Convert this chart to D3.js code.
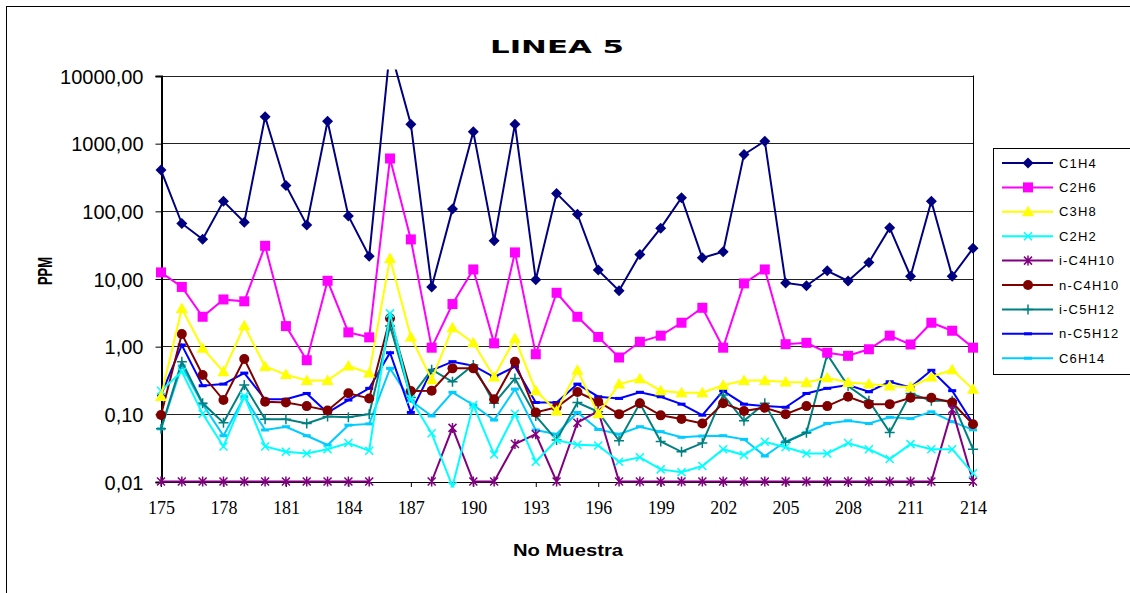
<!DOCTYPE html>
<html>
<head>
<meta charset="utf-8">
<script src="https://cdn.jsdelivr.net/npm/d3@7"></script>
<style>
  body { margin: 0; background: #fff; }
  svg { display: block; }
</style>
</head>
<body>
<div id="chart"></div>
<script>
// sample numbers on the x axis
var samples = [175, 176, 177, 178, 179, 180, 181, 182, 183, 184, 185, 186, 187, 188, 189, 190, 191, 192, 193, 194,
  195, 196, 197, 198, 199, 200, 201, 202, 203, 204, 205, 206, 207, 208, 209, 210, 211, 212, 213, 214]

var xTickLabels = [175, 178, 181, 184, 187, 190, 193, 196, 199, 202, 205, 208, 211, 214]
var yTickValues = [0.01, 0.1, 1, 10, 100, 1000, 10000]

// ppm values (null = no point)
var c1h4 = [400, 65, 38, 138, 68, 2450, 237, 62, 2110, 84, 21.4, 25000, 1910, 7.5, 106, 1470, 36, 1910, 9.6, 181,
  89, 13.3, 6.6, 22.7, 55.5, 156, 20.2, 24.8, 680, 1070, 8.6, 7.8, 13, 9.2, 17.3, 56, 10.8, 139, 10.8, 27.9]
var c2h6 = [12.3, 7.5, 2.72, 4.9, 4.6, 30.4, 1.98, 0.62, 9.25, 1.6, 1.35, 594, 37.8, 0.95, 4.19, 13.6, 1.1, 24.3, 0.76, 6.15,
  2.72, 1.37, 0.68, 1.16, 1.43, 2.22, 3.69, 0.95, 8.46, 13.6, 1.07, 1.12, 0.8, 0.72, 0.9, 1.43, 1.06, 2.22, 1.69, 0.95]
var c3h8 = [0.18, 3.6, 0.93, 0.42, 2.0, 0.5, 0.38, 0.31, 0.31, 0.51, 0.4, 19.8, 1.37, 0.32, 1.87, 1.12, 0.35, 1.3, 0.22, 0.11,
  0.44, 0.1, 0.275, 0.33, 0.22, 0.205, 0.205, 0.264, 0.31, 0.31, 0.295, 0.29, 0.34, 0.29, 0.275, 0.258, 0.25, 0.35, 0.45, 0.23]
var c2h2 = [0.22, 0.42, 0.1, 0.033, 0.183, 0.033, 0.0275, 0.026, 0.03, 0.037, 0.0285, 3.05, 0.164, 0.0515, 0.0085, 0.135, 0.025, 0.1, 0.0196, 0.041,
  0.035, 0.034, 0.0196, 0.0228, 0.0151, 0.0137, 0.0169, 0.03, 0.0246, 0.0387, 0.032, 0.026, 0.026, 0.037, 0.03, 0.0215, 0.0357, 0.03, 0.03, 0.0132]
var ic4h10 = [0.01, 0.01, 0.01, 0.01, 0.01, 0.01, 0.01, 0.01, 0.01, 0.01, 0.01, null, null, 0.01, 0.062, 0.01, 0.01, 0.0358, 0.05, 0.01,
  0.074, 0.11, 0.01, 0.01, 0.01, 0.01, 0.01, 0.01, 0.01, 0.01, 0.01, 0.01, 0.01, 0.01, 0.01, 0.01, 0.01, 0.01, 0.116, 0.01]
var nc4h10 = [0.096, 1.51, 0.374, 0.16, 0.645, 0.151, 0.147, 0.13, 0.112, 0.201, 0.169, 2.58, 0.217, 0.22, 0.47, 0.47, 0.164, 0.589, 0.105, 0.125,
  0.21, 0.151, 0.099, 0.143, 0.095, 0.084, 0.072, 0.143, 0.11, 0.123, 0.099, 0.13, 0.13, 0.179, 0.139, 0.139, 0.173, 0.173, 0.147, 0.07]
var ic5h12 = [0.06, 0.59, 0.143, 0.074, 0.266, 0.083, 0.083, 0.072, 0.091, 0.089, 0.099, 1.98, 0.175, 0.45, 0.298, 0.526, 0.143, 0.334, 0.093, 0.041,
  0.147, 0.107, 0.04, 0.143, 0.039, 0.0275, 0.037, 0.19, 0.079, 0.143, 0.038, 0.0526, 0.757, 0.258, 0.156, 0.0532, 0.2, 0.156, 0.156, 0.03]
var nc5h12 = [0.19, 1.04, 0.26, 0.275, 0.4, 0.164, 0.164, 0.2, 0.104, 0.16, 0.238, 0.8, 0.105, 0.44, 0.59, 0.514, 0.35, 0.5, 0.147, 0.147,
  0.275, 0.179, 0.169, 0.208, 0.179, 0.139, 0.0955, 0.219, 0.139, 0.13, 0.125, 0.2, 0.238, 0.266, 0.212, 0.298, 0.246, 0.44, 0.22, 0.072]
var c6h14 = [0.06, 0.51, 0.139, 0.0475, 0.179, 0.0577, 0.0645, 0.0475, 0.0346, 0.068, 0.071, 0.47, 0.156, 0.093, 0.208, 0.135, 0.081, 0.232, 0.0577, 0.05,
  0.105, 0.0588, 0.05, 0.0645, 0.0545, 0.045, 0.047, 0.0475, 0.042, 0.0238, 0.039, 0.053, 0.072, 0.079, 0.072, 0.089, 0.085, 0.107, 0.0765, 0.058]

var seriesNames = ['C1H4', 'C2H6', 'C3H8', 'C2H2', 'i-C4H10', 'n-C4H10', 'i-C5H12', 'n-C5H12', 'C6H14']
var seriesValues = [c1h4, c2h6, c3h8, c2h2, ic4h10, nc4h10, ic5h12, nc5h12, c6h14]
var seriesColors = ['#000080', '#ff00ff', '#ffff00', '#00ffff', '#800080', '#800000', '#008080', '#0000ff', '#00ccff']
var seriesMarkers = ['diamond', 'square', 'triangle', 'x', 'star', 'circle', 'plus', 'dash', 'dash']

var width = 1130
var height = 593
var plot = { left: 161, right: 973, top: 75.5, bottom: 481.5 }

var svg = d3.select('#chart')
  .append('svg')
  .attr('width', width)
  .attr('height', height)

// outer chart frame
svg.append('rect')
  .attr('x', 6.5)
  .attr('y', 6.5)
  .attr('width', 1200)
  .attr('height', 700)
  .attr('fill', 'none')
  .attr('stroke', '#000')

var xPositionScale = d3.scalePoint()
  .domain(samples)
  .range([plot.left, plot.right])

var yPositionScale = d3.scaleLog()
  .domain([0.01, 10000])
  .range([plot.bottom, plot.top])

// title
svg.append('text')
  .text('LINEA 5')
  .attr('x', 557)
  .attr('y', 53)
  .attr('text-anchor', 'middle')
  .attr('font-family', 'DejaVu Sans, sans-serif')
  .attr('font-weight', 'bold')
  .attr('font-size', 18)
  .attr('textLength', 134)
  .attr('lengthAdjust', 'spacingAndGlyphs')

// gridlines
svg.append('g')
  .selectAll('line')
  .data(yTickValues)
  .enter()
  .append('line')
  .attr('x1', plot.left)
  .attr('x2', plot.right)
  .attr('y1', d => Math.round(yPositionScale(d)) + 0.5)
  .attr('y2', d => Math.round(yPositionScale(d)) + 0.5)
  .attr('stroke', '#222')
  .attr('stroke-width', 1)

// right border of plot area
svg.append('line')
  .attr('x1', plot.right + 0.5)
  .attr('x2', plot.right + 0.5)
  .attr('y1', plot.top)
  .attr('y2', plot.bottom)
  .attr('stroke', '#000')

// y axis
var yAxis = d3.axisLeft(yPositionScale)
  .tickValues(yTickValues)
  .tickSize(6)
  .tickPadding(12)
  .tickFormat(d => d.toFixed(2).replace('.', ','))

svg.append('g')
  .attr('class', 'axis y-axis')
  .attr('transform', 'translate(' + (plot.left + 0.5) + ',0.5)')
  .call(yAxis)
  .call(g => g.select('.domain').attr('stroke-width', 2))
  .selectAll('text')
  .attr('font-family', 'Liberation Sans, Arial, sans-serif')
  .attr('font-size', 20)
  .attr('dy', '0.35em')

// x axis
var xAxis = d3.axisBottom(xPositionScale)
  .tickValues(xTickLabels)
  .tickSize(5)
  .tickSizeOuter(0)
  .tickPadding(14)

svg.append('g')
  .attr('class', 'axis x-axis')
  .attr('transform', 'translate(0,' + (plot.bottom + 0.5) + ')')
  .call(xAxis)
  .selectAll('text')
  .attr('font-family', 'Liberation Serif, Times New Roman, serif')
  .attr('font-size', 18)

svg.selectAll('.axis text').attr('fill', '#000')
svg.selectAll('.axis line, .axis path').attr('stroke', '#000')

// axis titles
svg.append('text')
  .text('No Muestra')
  .attr('x', 568)
  .attr('y', 556)
  .attr('text-anchor', 'middle')
  .attr('font-family', 'Liberation Sans, Arial, sans-serif')
  .attr('font-weight', 'bold')
  .attr('font-size', 16)
  .attr('textLength', 110)
  .attr('lengthAdjust', 'spacingAndGlyphs')

svg.append('text')
  .text('PPM')
  .attr('transform', 'translate(52,271) rotate(-90)')
  .attr('text-anchor', 'middle')
  .attr('font-family', 'Liberation Sans, Arial, sans-serif')
  .attr('font-weight', 'bold')
  .attr('font-size', 20)
  .attr('textLength', 28)
  .attr('lengthAdjust', 'spacingAndGlyphs')

// clip lines a bit past the plot area like the original
svg.append('clipPath')
  .attr('id', 'plot-clip')
  .append('rect')
  .attr('x', plot.left - 8)
  .attr('y', plot.top - 6)
  .attr('width', plot.right - plot.left + 16)
  .attr('height', plot.bottom - plot.top + 12)

// draws one marker shape into a group
function drawMarker(g, type, color) {
  if (type === 'diamond') {
    g.append('path').attr('d', 'M0,-5.5L5.5,0L0,5.5L-5.5,0Z').attr('fill', color)
  } else if (type === 'square') {
    g.append('rect').attr('x', -5).attr('y', -5).attr('width', 10).attr('height', 10).attr('fill', color)
  } else if (type === 'triangle') {
    g.append('path').attr('d', 'M0,-6L6,4.5L-6,4.5Z').attr('fill', color)
  } else if (type === 'x') {
    g.append('path').attr('d', 'M-4,-4L4,4M-4,4L4,-4').attr('stroke', color).attr('stroke-width', 1.5)
  } else if (type === 'star') {
    g.append('path').attr('d', 'M-4,-4L4,4M-4,4L4,-4M0,-5L0,5').attr('stroke', color).attr('stroke-width', 1.5)
  } else if (type === 'circle') {
    g.append('circle').attr('r', 5).attr('fill', color)
  } else if (type === 'plus') {
    g.append('path').attr('d', 'M-5,0L5,0M0,-5L0,5').attr('stroke', color).attr('stroke-width', 1.5)
  } else if (type === 'dash') {
    g.append('rect').attr('x', -4).attr('y', -1.5).attr('width', 8).attr('height', 3).attr('fill', color)
  }
}

var line = d3.line()
  .defined(d => d.value !== null)
  .x(d => xPositionScale(d.sample))
  .y(d => yPositionScale(d.value))

var plotG = svg.append('g').attr('clip-path', 'url(#plot-clip)')

// draw the series from the last to the first so C1H4 sits on top
d3.range(seriesNames.length - 1, -1, -1).forEach(function(k) {
  var datapoints = samples.map((s, i) => ({ sample: s, value: seriesValues[k][i] }))
  var color = seriesColors[k]

  plotG.append('path')
    .datum(datapoints)
    .attr('d', line)
    .attr('fill', 'none')
    .attr('stroke', color)
    .attr('stroke-width', 2)

  plotG.append('g')
    .selectAll('.marker')
    .data(datapoints.filter(d => d.value !== null))
    .enter()
    .append('g')
    .attr('class', 'marker')
    .attr('transform', d => 'translate(' + xPositionScale(d.sample) + ',' + yPositionScale(d.value) + ')')
    .each(function() {
      drawMarker(d3.select(this), seriesMarkers[k], color)
    })
})

// legend
var legend = svg.append('g')

legend.append('rect')
  .attr('x', 993.5)
  .attr('y', 148.5)
  .attr('width', 200)
  .attr('height', 226)
  .attr('fill', '#fff')
  .attr('stroke', '#000')

seriesNames.forEach(function(name, k) {
  var y = 163 + k * 24.4
  legend.append('line')
    .attr('x1', 1002)
    .attr('x2', 1053)
    .attr('y1', y)
    .attr('y2', y)
    .attr('stroke', seriesColors[k])
    .attr('stroke-width', 2)
  var m = legend.append('g').attr('transform', 'translate(1028,' + y + ')')
  drawMarker(m, seriesMarkers[k], seriesColors[k])
  legend.append('text')
    .text(name)
    .attr('x', 1059)
    .attr('y', y)
    .attr('dy', '0.35em')
    .attr('font-family', 'Liberation Sans, Arial, sans-serif')
    .attr('font-size', 13)
    .attr('letter-spacing', 1.2)
})
</script>
</body>
</html>
